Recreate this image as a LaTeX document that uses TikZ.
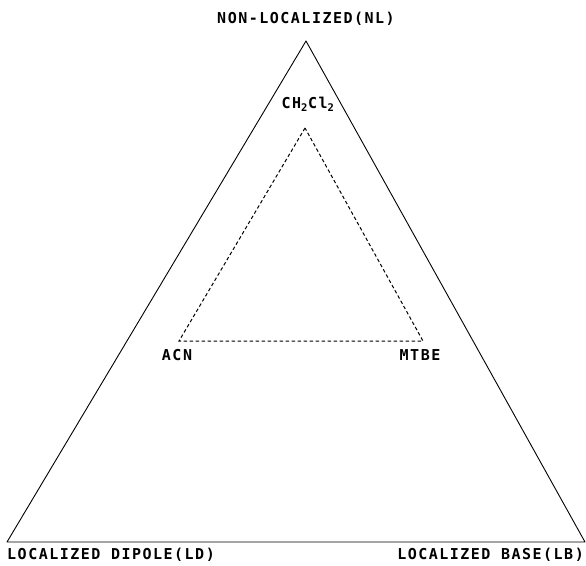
\documentclass[tikz,border=0pt]{standalone}
\usepackage{fontspec}
\setmonofont[LetterSpace=10]{DejaVu Sans Mono}
\usetikzlibrary{positioning,calc}

\begin{document}
\begin{tikzpicture}[x=1pt, y=-1pt, label/.style={font=\ttfamily\bfseries\fontsize{15}{16}\selectfont, inner sep=0pt}, outer/.style={line width=0.9pt, line join=round}, inner/.style={line width=1pt, dash pattern=on 3.5pt off 2.5pt}]
    \useasboundingbox (0,0) rectangle (586,565);
    \coordinate (nl) at (306,41);
    \coordinate (ld) at (7,542);
    \coordinate (lb) at (585,542);
    \coordinate (ch) at (305,128);
    \coordinate (acn) at (179,341);
    \coordinate (mtbe) at (423,341);

    \draw [outer] (nl) -- (ld) -- (lb) -- cycle;
    \draw [inner] (ch) -- (acn) -- (mtbe) -- cycle;

    \node (nltext) [label] at (306,19) {NON-LOCALIZED(NL)};
    \node (ldtext) [label, anchor=west] at (7,555) {LOCALIZED DIPOLE(LD)};
    \node (lbtext) [label, anchor=east] at (584,555) {LOCALIZED BASE(LB)};
    \node (chtext) [label] at (308,104) {CH\textsubscript{2}Cl\textsubscript{2}};
    \node (acntext) [label] at (177,355) {ACN};
    \node (mtbetext) [label] at (420,355) {MTBE};
\end{tikzpicture}
\end{document}
